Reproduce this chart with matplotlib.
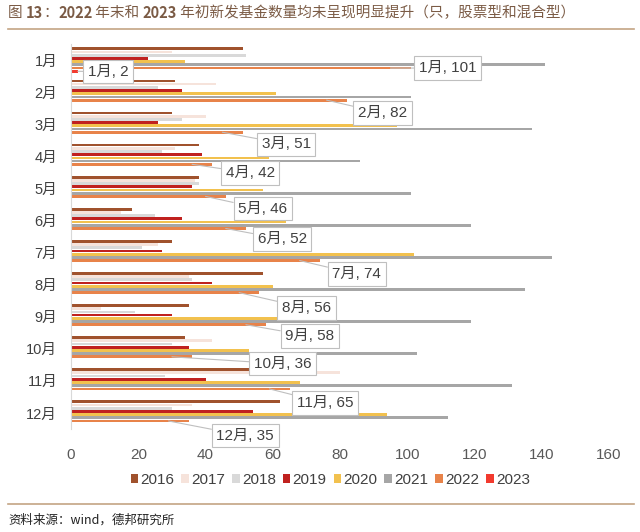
import numpy as np
import matplotlib
matplotlib.use("Agg")
import matplotlib.pyplot as plt
from matplotlib.patches import Patch

plt.rcParams["font.family"] = ["Liberation Sans", "Noto Sans CJK SC", "DejaVu Sans"]

months = ["1月", "2月", "3月", "4月", "5月", "6月", "7月", "8月", "9月", "10月", "11月", "12月"]
years = ["2016", "2017", "2018", "2019", "2020", "2021", "2022", "2023"]

y2016 = [51, 31, 30, 38, 38, 18, 30, 57, 35, 34, 53, 62]
y2017 = [30, 43, 40, 31, 37, 15, 26, 35, 9, 42, 80, 36]
y2018 = [52, 26, 33, 27, 38, 25, 21, 36, 19, 30, 28, 30]
y2019 = [23, 33, 26, 39, 36, 33, 27, 42, 30, 35, 40, 54]
y2020 = [34, 61, 97, 59, 57, 64, 102, 60, 64, 53, 68, 94]
y2021 = [141, 101, 137, 86, 101, 119, 143, 135, 119, 103, 131, 112]
y2022 = [101, 82, 51, 42, 46, 52, 74, 56, 58, 36, 65, 35]
y2023 = [2]  # only January so far

colors = ["#A0522D", "#F6E3DB", "#D9D9D9", "#C0211F", "#F2C14E", "#A6A6A6", "#E8834A", "#F23A2E"]

# label box centres (data coords) for the 2022 / 2023 callouts
label_x = [112, 92.6, 64, 53.3, 57, 62.8, 85, 70, 71, 63, 75.6, 51.8]
label_y = [0.25, 1.65, 2.62, 3.52, 4.64, 5.58, 6.67, 7.73, 8.6, 9.47, 10.69, 11.71]

fig = plt.figure(figsize=(6.4, 5.32), dpi=100)
ax = fig.add_axes([0.111, 0.1936, 0.8406, 0.7237])

series = [y2016, y2017, y2018, y2019, y2020, y2021, y2022, y2023]
step = 0.1
for k, vals in enumerate(series):
    idx = np.arange(len(vals))
    ax.barh(idx + (k - 3.5) * step, vals, height=step * 0.85,
            color=colors[k], zorder=2)

ax.set_xlim(0, 160)
ax.set_ylim(11.5, -0.5)
ax.set_yticks(range(len(months)))
ax.set_yticklabels(months, fontsize=10.5, color="#404040")
ax.set_xticks(range(0, 161, 20))
ax.tick_params(axis="x", length=0, pad=14, labelsize=11, labelcolor="#595959")
ax.tick_params(axis="y", length=0, pad=10)
for s in ["top", "right", "bottom"]:
    ax.spines[s].set_visible(False)
ax.spines["left"].set_color("#D9D9D9")

box = dict(boxstyle="square,pad=0.3", fc="white", ec="#BFBFBF", lw=0.8)
line = dict(arrowstyle="-", color="#BFBFBF", lw=0.8, shrinkA=0, shrinkB=0)

# 2023 January label
ax.annotate(f"{months[0]}, {y2023[0]}", xy=(y2023[0], 0 + 3.5 * step),
            xytext=(11, 0.37), ha="center", va="center", fontsize=11,
            color="#404040", bbox=box, arrowprops=line, zorder=5)

off22 = 2.5 * step
for i, v in enumerate(y2022):
    ax.annotate(f"{months[i]}, {v}", xy=(v - 6, i + off22),
                xytext=(label_x[i], label_y[i]), ha="center", va="center",
                fontsize=11, color="#404040", bbox=box, arrowprops=line,
                annotation_clip=False, zorder=5)

handles = [Patch(facecolor=c, edgecolor="none") for c in colors]
fig.legend(handles, years, loc="center", bbox_to_anchor=(0.516, 0.098), ncol=8,
           frameon=False, fontsize=11, handlelength=0.5, handleheight=0.5,
           handletextpad=0.15, columnspacing=0.45, labelcolor="#404040")

# title: numbers in bold, the rest regular
cjk = ["Noto Sans CJK SC", "DejaVu Sans"]
pieces = [("图 ", "normal"), ("13", "bold"), ("：", "normal"), ("2022", "bold"),
          (" 年末和 ", "normal"), ("2023", "bold"),
          (" 年初新发基金数量均未呈现明显提升（只，股票型和混合型）", "normal")]
renderer = fig.canvas.get_renderer()
x = 0.013
for txt, w in pieces:
    t = fig.text(x, 0.976, txt, fontsize=10.5, color="#7B5B45", va="center",
                 weight=w, family=cjk)
    bb = t.get_window_extent(renderer=renderer)
    x += bb.width / fig.bbox.width

fig.add_artist(plt.Line2D([0.013, 0.99], [0.945, 0.945], color="#C4A484", lw=1.2))
fig.add_artist(plt.Line2D([0.013, 0.99], [0.053, 0.053], color="#C4A484", lw=1.2))
fig.text(0.013, 0.023, "资料来源：wind，德邦研究所", fontsize=9, color="#222222",
         va="center", family=cjk)

fig.savefig("out.png", dpi=100, facecolor="white")
